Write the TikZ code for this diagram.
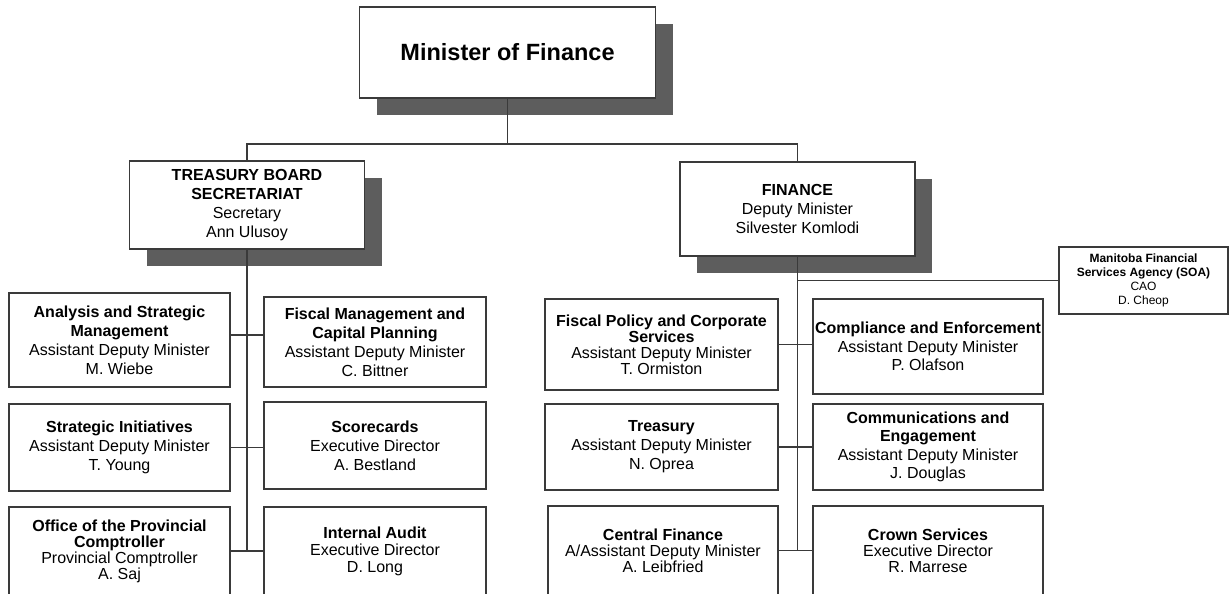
\documentclass[tikz,border=0pt]{standalone}
\usepackage{fontspec}
\setmainfont{Liberation Sans}
\usetikzlibrary{shadows}
\definecolor{linecol}{RGB}{58,58,58}
\definecolor{shadowcol}{RGB}{93,93,93}
\tikzset{
  box/.style={draw=linecol, line width=1.5pt, fill=white, inner sep=0pt, outer sep=0pt,
    align=center, text=black, font=\fontsize{16}{19}\selectfont},
  tightA/.style={font=\fontsize{16}{16}\selectfont},
  tightB/.style={font=\fontsize{16}{17}\selectfont},
  midsp/.style={font=\fontsize{16}{18.4}\selectfont},
  smallbox/.style={font=\fontsize{12}{14}\selectfont},
  bigbox/.style={font=\bfseries\fontsize{23.5}{28}\selectfont},
  shadowed/.style={drop shadow={shadow xshift=17pt, shadow yshift=-17pt, fill=shadowcol, opacity=1}},
  conn/.style={draw=linecol, line width=1.5pt},
}
\begin{document}
\begin{tikzpicture}[x=1pt,y=-1pt]
\useasboundingbox (0,0) rectangle (1231,594);
\fill[white] (0,0) rectangle (1231,594);
\clip (0,0) rectangle (1231,594);

% top level
\node[box, bigbox, shadowed, minimum width=296pt, minimum height=91pt] (min) at (507.5,52.5) {Minister of Finance};

% second level
\node[box, shadowed, minimum width=235pt, minimum height=88pt] (tbs) at (247,205)
  {\textbf{TREASURY BOARD}\\\textbf{SECRETARIAT}\\Secretary\\Ann Ulusoy};
\node[box, shadowed, minimum width=235pt, minimum height=94pt] (fin) at (797.5,209)
  {\textbf{FINANCE}\\Deputy Minister\\Silvester Komlodi};

% agency
\node[box, smallbox, minimum width=169pt, minimum height=67pt] (mfsa) at (1143.5,280.5)
  {\textbf{Manitoba Financial}\\\textbf{Services Agency (SOA)}\\CAO\\D. Cheop};

% Treasury Board Secretariat branches
\node[box, minimum width=221pt, minimum height=94pt] (asm) at (119.5,340)
  {\textbf{Analysis and Strategic}\\\textbf{Management}\\Assistant Deputy Minister\\M. Wiebe};
\node[box, minimum width=222pt, minimum height=90pt] (fmcp) at (375,342)
  {\textbf{Fiscal Management and}\\\textbf{Capital Planning}\\Assistant Deputy Minister\\C. Bittner};
\node[box, minimum width=221pt, minimum height=87pt] (si) at (119.5,447.5)
  {\textbf{Strategic Initiatives}\\Assistant Deputy Minister\\T. Young};
\node[box, minimum width=222pt, minimum height=87pt] (sc) at (375,445.5)
  {\textbf{Scorecards}\\Executive Director\\A. Bestland};
\node[box, tightA, minimum width=221pt, minimum height=88pt] (opc) at (119.5,551)
  {\textbf{Office of the Provincial}\\\textbf{Comptroller}\\Provincial Comptroller\\A. Saj};
\node[box, tightB, minimum width=222pt, minimum height=88pt] (ia) at (375,551)
  {\textbf{Internal Audit}\\Executive Director\\D. Long};

% Finance branches
\node[box, tightA, minimum width=233pt, minimum height=91pt] (fpcs) at (661.5,344.5)
  {\textbf{Fiscal Policy and Corporate}\\\textbf{Services}\\Assistant Deputy Minister\\T. Ormiston};
\node[box, midsp, minimum width=230pt, minimum height=95pt] (ce) at (928,346.5)
  {\textbf{Compliance and Enforcement}\\Assistant Deputy Minister\\P. Olafson};
\node[box, minimum width=233pt, minimum height=86pt] (tr) at (661.5,447)
  {\textbf{Treasury}\\Assistant Deputy Minister\\N. Oprea};
\node[box, midsp, minimum width=230pt, minimum height=86pt] (ceng) at (928,447)
  {\textbf{Communications and}\\\textbf{Engagement}\\Assistant Deputy Minister\\J. Douglas};
\node[box, tightA, minimum width=230pt, minimum height=89pt] (cf) at (663,550.5)
  {\textbf{Central Finance}\\A/Assistant Deputy Minister\\A. Leibfried};
\node[box, tightA, minimum width=230pt, minimum height=89pt] (cs) at (928,550.5)
  {\textbf{Crown Services}\\Executive Director\\R. Marrese};

% connectors
\coordinate (bus) at (0,144);
\draw[conn] (min.south) -- (min.south |- bus);
\draw[conn] (tbs.north) -- (tbs.north |- bus) -- (fin.north |- bus) -- (fin.north);

\draw[conn] (tbs.south) -- (tbs.south |- opc.east);
\draw[conn] ([yshift=5pt]asm.east) -- ([yshift=5pt]asm.east -| fmcp.west);
\draw[conn] (si.east) -- (si.east -| sc.west);
\draw[conn] (opc.east) -- (opc.east -| ia.west);

\draw[conn] (fin.south) -- (fin.south |- cf.east);
\draw[conn] (fin.south |- mfsa.west) -- (mfsa.west);
\draw[conn] (fpcs.east) -- (fpcs.east -| ce.west);
\draw[conn] (tr.east) -- (tr.east -| ceng.west);
\draw[conn] (cf.east) -- (cf.east -| cs.west);
\end{tikzpicture}
\end{document}
